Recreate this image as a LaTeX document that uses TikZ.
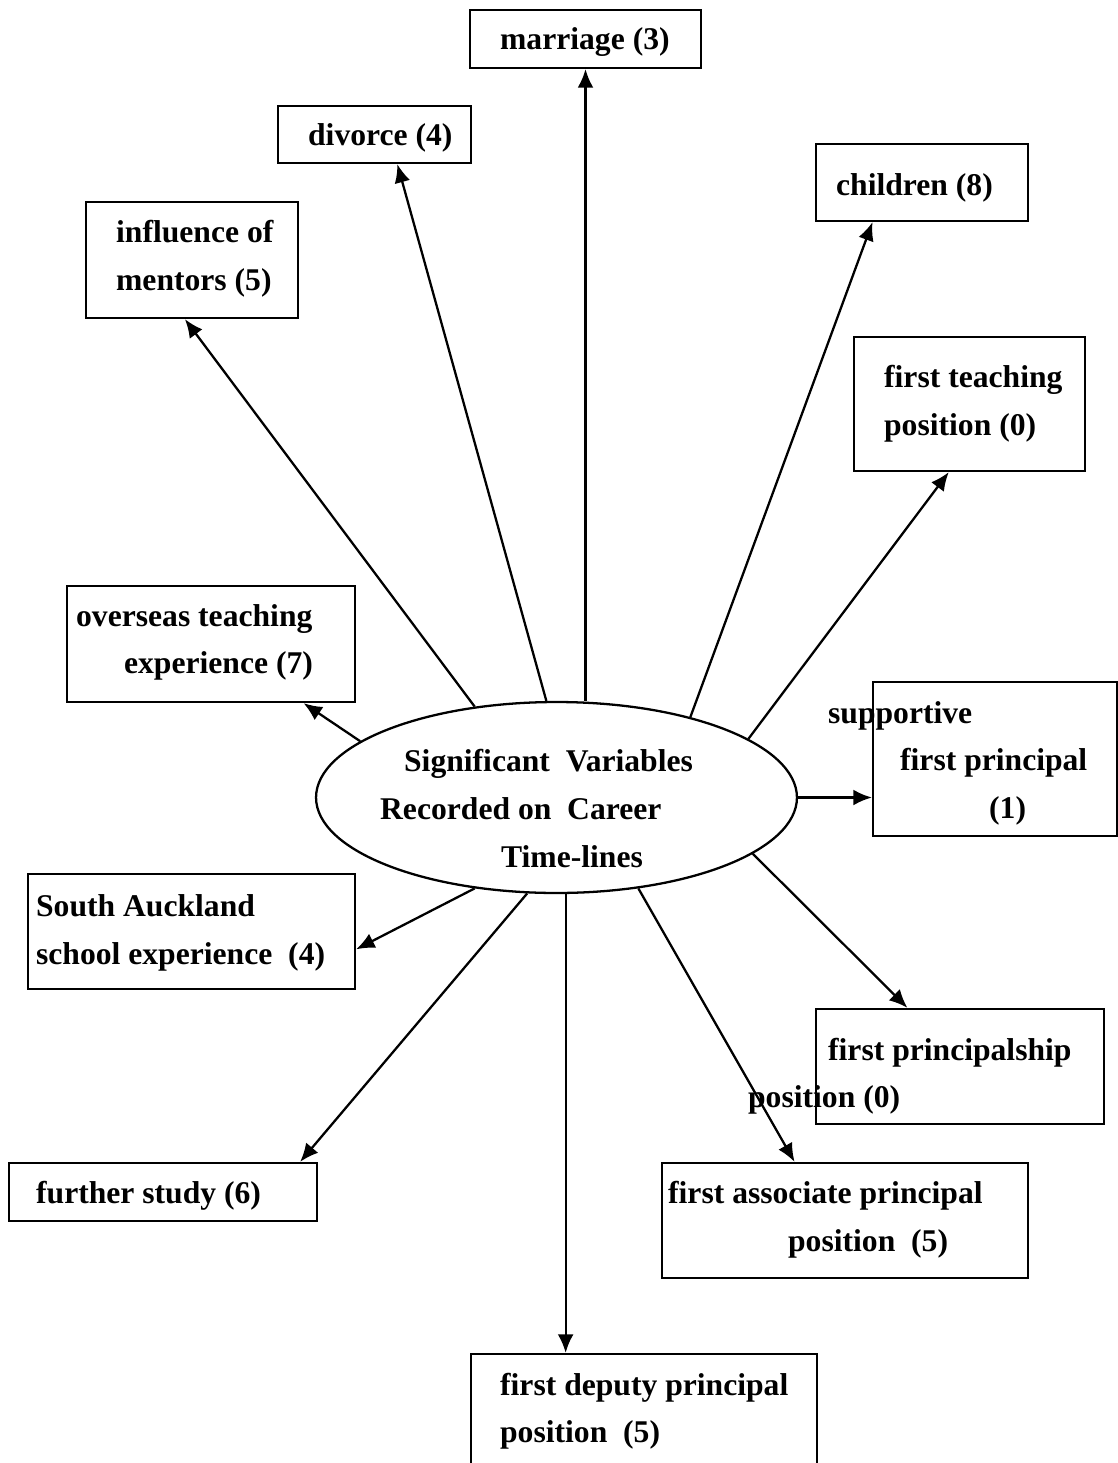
\documentclass[tikz,border=0pt]{standalone}
\usepackage{fontspec}
\setmainfont{Liberation Serif}
\usetikzlibrary{arrows.meta,calc,fit,shapes.geometric}

\begin{document}
\begin{tikzpicture}[x=0.02cm, y=-0.02cm, >={Latex[length=10.5pt,width=9pt]}, line width=1.3pt]

% ---------- styles ----------
\tikzset{
  varBox/.style ={draw, rectangle, inner sep=0pt},
  varHub/.style ={draw, ellipse, inner sep=0pt, minimum width=9.62cm, minimum height=3.82cm},
  varText/.style={anchor=base west, inner sep=0pt, font=\fontsize{18}{22}\selectfont\bfseries},
  varLink/.style={->, line width=1.3pt}
}

% ---------- page frame ----------
\useasboundingbox (0,0) rectangle (1118,1463);
\clip (0,0) rectangle (1118,1463);

% ---------- central ellipse ----------
\node[varHub] (hub) at (556.5,797.5) {};
\node[varText] (hubA) at (403,771) {Significant\ \ Variables};
\node[varText] (hubB) at (379,819) {Recorded on\ \ Career};
\node[varText] (hubC) at (500,867) {Time-lines};

% ---------- boxes (upper half) ----------
\node[varBox, fit={(470,10) (701,68)}]    (marriage) {};
\node[varBox, fit={(278,106) (471,163)}]  (divorce) {};
\node[varBox, fit={(86,202) (298,318)}]   (mentors) {};
\node[varBox, fit={(816,144) (1028,221)}] (children) {};
\node[varBox, fit={(854,337) (1085,471)}] (teaching) {};
\node[varBox, fit={(67,586) (355,702)}]   (overseas) {};
\node[varBox, fit={(873,682) (1117,836)}] (supportive) {};

% ---------- boxes (lower half) ----------
\node[varBox, fit={(28,874) (355,989)}]    (southAuck) {};
\node[varBox, fit={(816,1009) (1104,1124)}] (principalship) {};
\node[varBox, fit={(9,1163) (317,1221)}]   (study) {};
\node[varBox, fit={(662,1163) (1028,1278)}] (associate) {};
\node[varBox, fit={(471,1354) (817,1480)}] (deputy) {};

% ---------- box texts ----------
\node[varText] (marriageT)  at (499,50)   {marriage (3)};
\node[varText] (divorceT)   at (307,146)  {divorce (4)};
\node[varText] (mentorsA)   at (115,242)  {influence of};
\node[varText] (mentorsB)   at (115,290)  {mentors (5)};
\node[varText] (childrenT)  at (835,195)  {children (8)};
\node[varText] (teachingA)  at (883,387)  {first teaching};
\node[varText] (teachingB)  at (883,435)  {position (0)};
\node[varText] (overseasA)  at (75,626)   {overseas teaching};
\node[varText] (overseasB)  at (123,673)  {experience (7)};
\node[varText] (supportA)   at (827,723)  {supportive};
\node[varText] (supportB)   at (899,770)  {first principal};
\node[varText] (supportC)   at (988,818)  {(1)};
\node[varText] (southA)     at (35,916)   {South Auckland};
\node[varText] (southB)     at (35,964)   {school experience\ \ (4)};
\node[varText] (principalA) at (827,1060) {first principalship};
\node[varText] (principalB) at (747,1107) {position (0)};
\node[varText] (studyT)     at (35,1203)  {further study (6)};
\node[varText] (associateA) at (667,1203) {first associate principal};
\node[varText] (associateB) at (787,1251) {position\ \ (5)};
\node[varText] (deputyA)    at (499,1395) {first deputy principal};
\node[varText] (deputyB)    at (499,1442) {position\ \ (5)};

% ---------- arrows out of the ellipse ----------
\draw[varLink] (hub.north -| marriage.south) -- (marriage.south);
\draw[varLink] (hub.96)  -- ($(divorce.south west)!0.617!(divorce.south east)$);
\draw[varLink] (hub.132) -- ($(mentors.south west)!0.467!(mentors.south east)$);
\draw[varLink] (hub.31)  -- ($(children.south west)!0.269!(children.south east)$);
\draw[varLink] (hub.17)  -- ($(teaching.south west)!0.411!(teaching.south east)$);
\draw[varLink] (hub.164) -- ($(overseas.south west)!0.819!(overseas.south east)$);
\draw[varLink] (hub.east) -- (hub.east -| supportive.west);
\draw[varLink] (hub.-16) -- ($(principalship.north west)!0.319!(principalship.north east)$);
\draw[varLink] (hub.-48) -- ($(associate.north west)!0.363!(associate.north east)$);
\coordinate (deputyTip) at ($(deputy.north west)!0.275!(deputy.north east)$);
\draw[varLink] (deputyTip |- hub.south) -- (deputyTip);
\draw[varLink] (hub.-107) -- ($(study.north west)!0.942!(study.north east)$);
\draw[varLink] (hub.-132) -- ($(southAuck.north east)!0.652!(southAuck.south east)$);

\end{tikzpicture}
\end{document}
